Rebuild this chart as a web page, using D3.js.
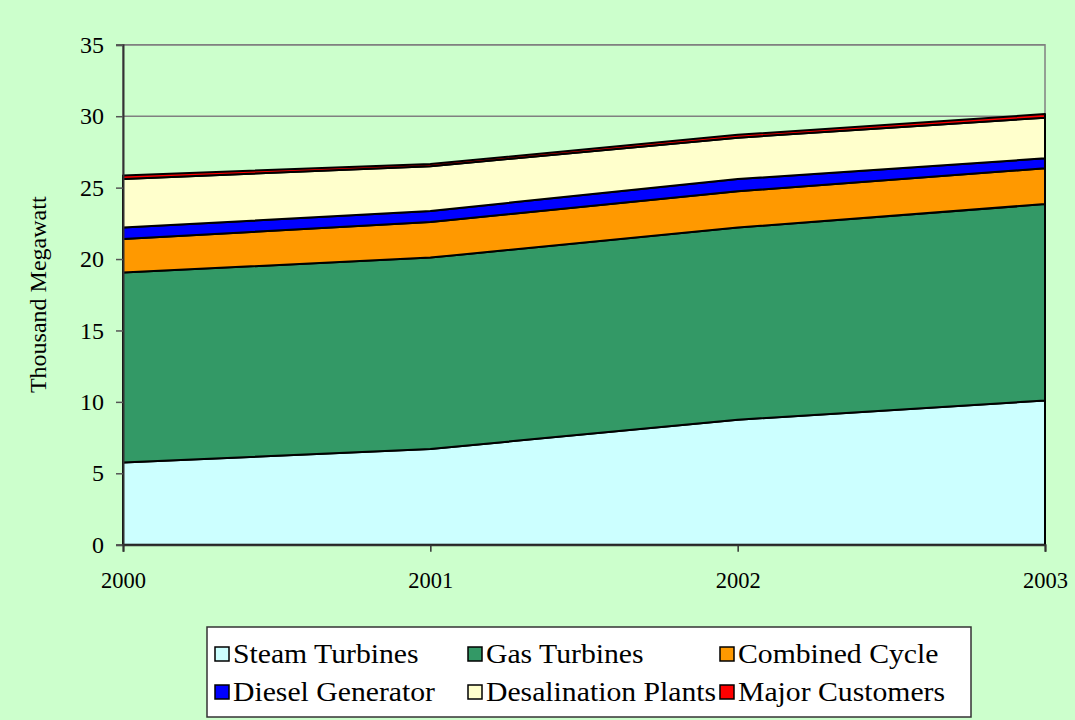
<!DOCTYPE html>
<html>
<head>
<meta charset="utf-8">
<script src="https://cdn.jsdelivr.net/npm/d3@7"></script>
<style>
  html, body { margin: 0; padding: 0; background: #CCFFCC; }
  svg { display: block; }
  svg text { font-family: "Liberation Serif", "Times New Roman", serif !important; fill: #000; }
</style>
</head>
<body>
<svg id="chart" width="1075" height="720"></svg>
<script>
// Installed generating capacity by plant type (thousand MW)
const years = [2000, 2001, 2002, 2003];
const steamTurbines     = [5.75, 6.7, 8.75, 10.1];
const gasTurbines       = [13.3, 13.4, 13.45, 13.75];
const combinedCycle     = [2.35, 2.5, 2.55, 2.5];
const dieselGenerator   = [0.8, 0.77, 0.85, 0.7];
const desalinationPlants= [3.4, 3.13, 2.9, 2.85];
const majorCustomers    = [0.25, 0.15, 0.2, 0.25];

const seriesNames  = ["Steam Turbines", "Gas Turbines", "Combined Cycle",
                      "Diesel Generator", "Desalination Plants", "Major Customers"];
const seriesValues = [steamTurbines, gasTurbines, combinedCycle,
                      dieselGenerator, desalinationPlants, majorCustomers];
const seriesColors = ["#CCFFFF", "#339966", "#FF9900", "#0000FF", "#FFFFCC", "#FF0000"];
const yTicks = [0, 5, 10, 15, 20, 25, 30, 35];

const rows = years.map((yr, i) => {
  const r = { year: yr };
  seriesNames.forEach((n, k) => r[n] = seriesValues[k][i]);
  return r;
});

const svg = d3.select("#chart");
const m = { left: 123, right: 1045, top: 44.8, bottom: 544.7 };

const x = d3.scaleLinear().domain([2000, 2003]).range([m.left, m.right]);
const y = d3.scaleLinear().domain([0, 35]).range([m.bottom, m.top]);

// plot area frame and gridlines
svg.append("rect")
  .attr("x", m.left).attr("y", m.top)
  .attr("width", m.right - m.left).attr("height", m.bottom - m.top)
  .attr("fill", "#CCFFCC").attr("stroke", "#808080").attr("stroke-width", 1.5);

svg.append("g").selectAll("line").data(yTicks.slice(1)).join("line")
  .attr("x1", m.left).attr("x2", m.right)
  .attr("y1", d => y(d)).attr("y2", d => y(d))
  .attr("stroke", "#808080").attr("stroke-width", 1.5);

// stacked areas
const stacked = d3.stack().keys(seriesNames)(rows);
const area = d3.area()
  .x(d => x(d.data.year))
  .y0(d => y(d[0]))
  .y1(d => y(d[1]));

svg.append("g").selectAll("path").data(stacked).join("path")
  .attr("d", area)
  .attr("fill", (d, i) => seriesColors[i])
  .attr("stroke", "#000")
  .attr("stroke-width", 2)
  .attr("stroke-linejoin", "round");

// axes
const yAxis = d3.axisLeft(y).tickValues(yTicks).tickSize(7).tickPadding(12);
const gy = svg.append("g").attr("transform", `translate(${m.left},0)`).call(yAxis);
gy.attr("font-family", null);
gy.select(".domain").attr("stroke", "#333").attr("stroke-width", 2);
gy.selectAll(".tick line").attr("stroke", "#555").attr("stroke-width", 1.5);
gy.selectAll("text").attr("font-size", 24);

const xAxis = d3.axisBottom(x).tickValues(years).tickFormat(d3.format("d"))
  .tickSize(7).tickPadding(20);
const gx = svg.append("g").attr("transform", `translate(0,${m.bottom})`).call(xAxis);
gx.attr("font-family", null);
gx.select(".domain").attr("stroke", "#333").attr("stroke-width", 2);
gx.selectAll(".tick line").attr("stroke", "#333").attr("stroke-width", 1.5);
gx.selectAll("text").attr("font-size", 22.5);

// y axis title
svg.append("text")
  .attr("transform", `translate(46,${(m.top + m.bottom) / 2}) rotate(-90)`)
  .attr("text-anchor", "middle")
  .attr("font-size", 24)
  .text("Thousand Megawatt");

// legend
const lg = svg.append("g");
lg.append("rect")
  .attr("x", 207).attr("y", 627).attr("width", 764).attr("height", 90)
  .attr("fill", "#fff").attr("stroke", "#333").attr("stroke-width", 1.5);

const colX = [215, 468, 720];
const rowY = [654, 692];
const items = lg.selectAll("g.item").data(seriesNames).join("g")
  .attr("class", "item")
  .attr("transform", (d, i) => `translate(${colX[i % 3]},${rowY[Math.floor(i / 3)]})`);
items.append("rect")
  .attr("x", 0).attr("y", -7).attr("width", 14).attr("height", 14)
  .attr("fill", (d, i) => seriesColors[i])
  .attr("stroke", "#000").attr("stroke-width", 1.5);
items.append("text")
  .attr("transform", "translate(18,9) scale(1.1,1)")
  .attr("font-size", 27)
  .text(d => d);
</script>
</body>
</html>
